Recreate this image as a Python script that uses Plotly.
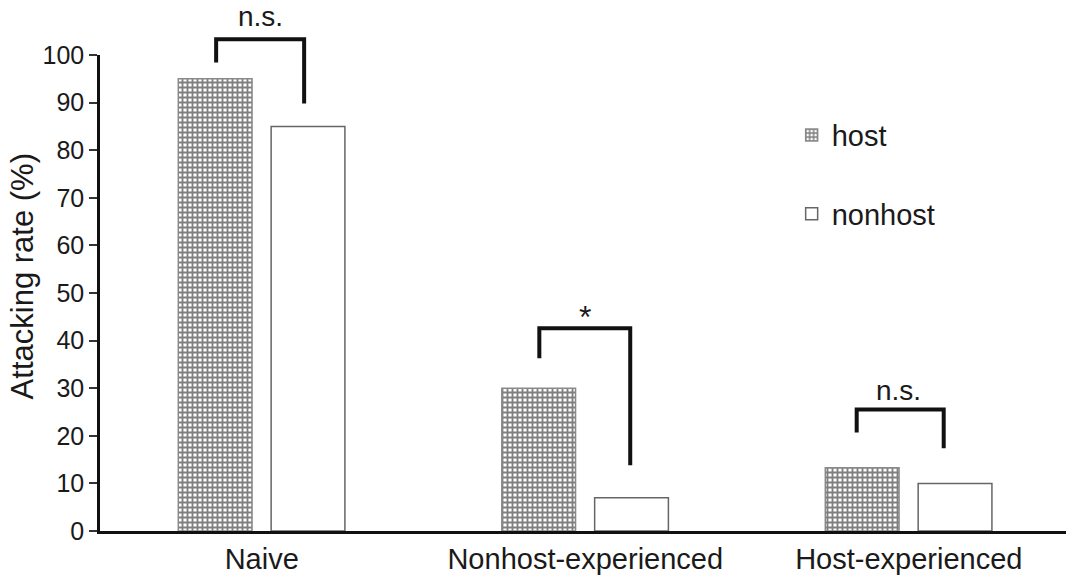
import plotly.graph_objects as go

# ---- data ----
categories = ["Naive", "Nonhost-experienced", "Host-experienced"]
host = [95, 30, 13.3]
nonhost = [85, 7, 10]
series_names = ["host", "nonhost"]
y_ticks = [0, 10, 20, 30, 40, 50, 60, 70, 80, 90, 100]

# significance brackets: (category index, left leg dx, right leg dx, top, left bottom, right bottom, label, label dx, label y)
brackets = [
    (0, -0.141, 0.131, 103.3, 98.4, 89.8, "n.s.", -0.005, 108.0),
    (1, -0.142, 0.139, 42.6, 36.3, 13.8, "*", 0.0, 45.0),
    (2, -0.161, 0.108, 25.5, 20.7, 17.4, "n.s.", -0.032, 29.5),
]

Y_MIN, Y_MAX = 0, 100
FONT = "Liberation Sans, Arial, sans-serif"
TXT = "#1a1a1a"

bar_w = 0.228

fig = go.Figure()
fig.add_trace(go.Bar(
    x=categories, y=host, name=series_names[0],
    offset=-0.258, width=bar_w,
    marker=dict(color="white",
                line=dict(color="#8a8a8a", width=1.5),
                pattern=dict(shape="+", size=5, solidity=0.6,
                             fgcolor="#000000", bgcolor="white", fillmode="overlay")),
    legendgroup="a",
))
fig.add_trace(go.Bar(
    x=categories, y=nonhost, name=series_names[1],
    offset=0.029, width=bar_w,
    marker=dict(color="white", line=dict(color="#666666", width=1.5)),
    legendgroup="b",
))

def to_paper(v):
    return (v - Y_MIN) / (Y_MAX - Y_MIN)

shapes = []
annotations = []
for ci, dl, dr, top, lb, rb, lab, ldx, ly in brackets:
    xl, xr = ci + dl, ci + dr
    path = (f"M{xl},{to_paper(lb)} L{xl},{to_paper(top)} "
            f"L{xr},{to_paper(top)} L{xr},{to_paper(rb)}")
    shapes.append(dict(type="path", xref="x", yref="paper", path=path,
                       line=dict(color="#111111", width=4), layer="above"))
    annotations.append(dict(x=ci + ldx, y=to_paper(ly), xref="x", yref="paper", text=lab,
                            showarrow=False,
                            font=dict(size=32 if lab == "*" else 28, color=TXT, family=FONT),
                            xanchor="center", yanchor="middle"))

annotations.append(dict(text="Attacking rate (%)", textangle=-90, xref="paper", yref="paper",
                        x=-0.0807, y=0.535, xanchor="center", yanchor="middle", showarrow=False,
                        font=dict(size=31, color=TXT, family=FONT)))

fig.update_layout(
    width=1066, height=579,
    margin=dict(l=100, r=0, t=55, b=48),
    plot_bgcolor="white", paper_bgcolor="white",
    font=dict(family=FONT, color=TXT),
    barmode="group",
    showlegend=True,
    legend=dict(x=0.716, y=0.885, xanchor="left", yanchor="top",
                font=dict(size=29, color=TXT, family=FONT),
                traceorder="grouped", tracegroupgap=38,
                bgcolor="rgba(0,0,0,0)"),
    shapes=shapes,
    annotations=annotations,
    xaxis=dict(type="category", categoryarray=categories, range=[-0.5, 2.486],
               showline=True, linewidth=2.5, linecolor="#111111",
               ticks="", showgrid=False, zeroline=False,
               tickfont=dict(size=29, color=TXT, family=FONT)),
    yaxis=dict(range=[Y_MIN, Y_MAX], tickvals=y_ticks, ticks="outside", ticklen=8,
               tickwidth=1.5, tickcolor="#333333",
               showline=True, linewidth=2.5, linecolor="#111111",
               showgrid=False, zeroline=False,
               tickfont=dict(size=25, color=TXT, family=FONT)),
)

fig.write_html("out.html", config={"displayModeBar": False},
               post_script="document.body.style.margin='0';document.body.style.padding='0';")
